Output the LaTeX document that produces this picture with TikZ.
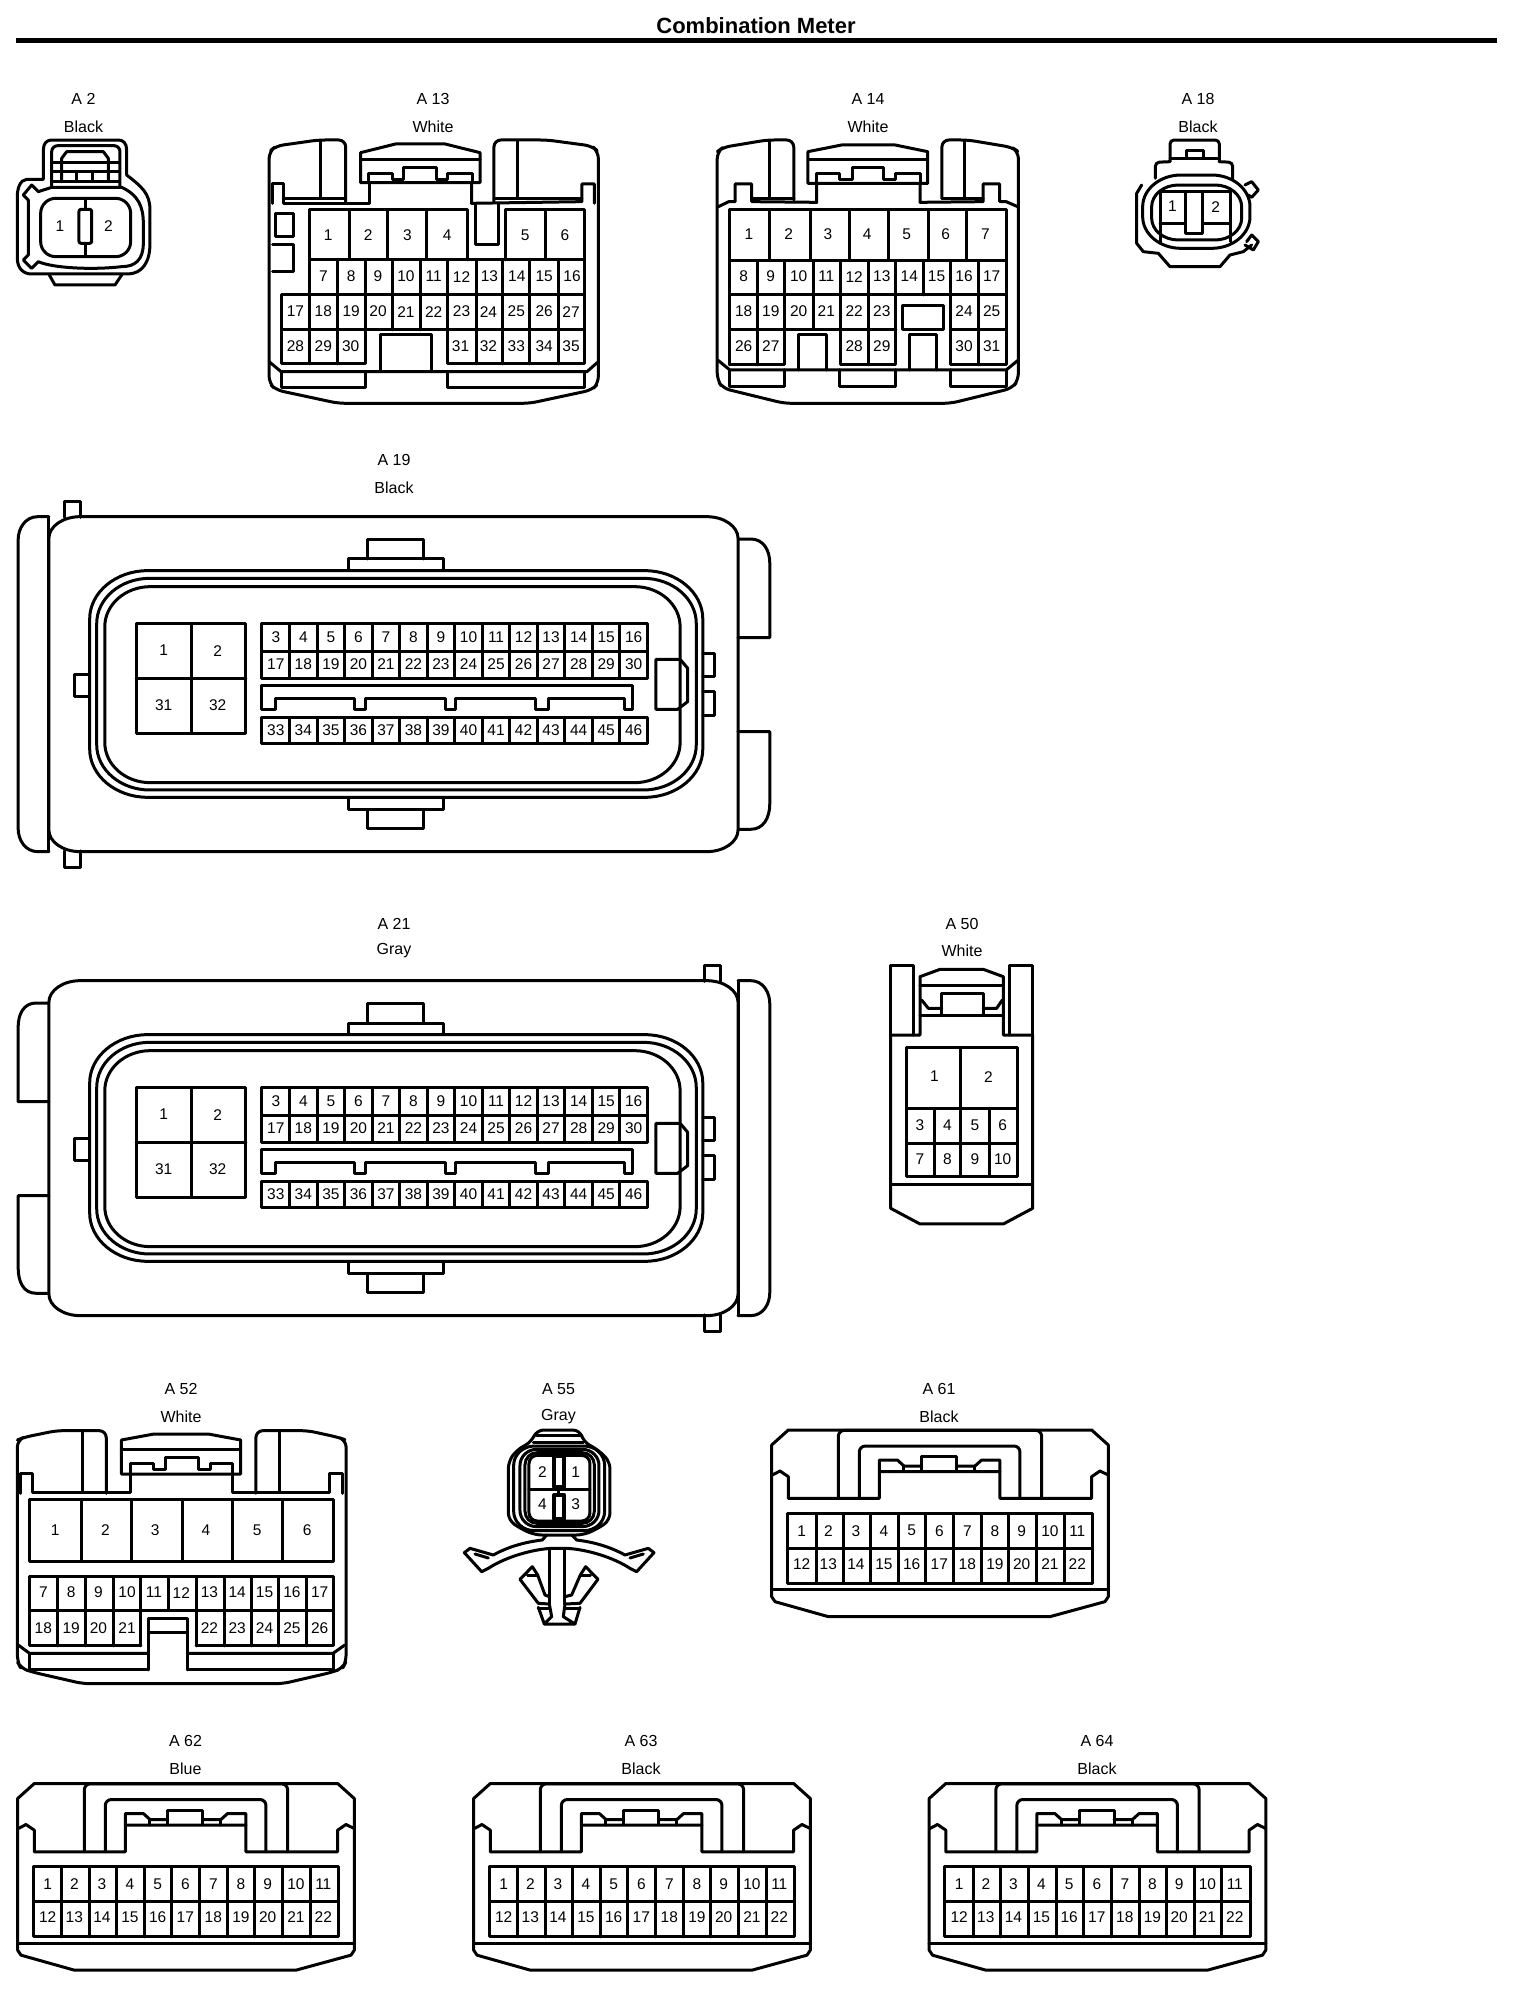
\documentclass[tikz,border=0pt]{standalone}
\usepackage{fontspec}
\setmainfont{Liberation Sans}
\newcounter{pn}
\tikzset{
  pintxt/.style={inner sep=0pt,font=\fontsize{15.5}{15.5}\selectfont},
  captxt/.style={inner sep=0pt,font=\fontsize{16}{16}\selectfont},
  titletxt/.style={inner sep=0pt,font=\bfseries\fontsize{22}{23}\selectfont},
  zoneA/.style={x=0.4974pt,y=-0.3333pt},
  zoneB/.style={shift={(700pt,-70pt)},x=0.3827pt,y=-0.3333pt},
  zoneC/.style={shift={(0pt,-440pt)},x=0.5038pt,y=-0.3333pt},
  zoneD/.style={shift={(840pt,-900pt)},x=0.3333pt,y=-0.3333pt},
  zoneE/.style={shift={(0pt,-1360pt)},x=0.4337pt,y=-0.3333pt},
  zoneF/.style={shift={(740pt,-1360pt)},x=0.3333pt,y=-0.3333pt},
  zoneG/.style={shift={(455pt,-1420pt)},x=0.3333pt,y=-0.3333pt},
  zoneH/.style={shift={(10pt,-130pt)},x=0.3333pt,y=-0.3333pt},
  zoneI/.style={shift={(1120pt,-130pt)},x=0.3333pt,y=-0.3333pt}
}
% row of pin numbers: y, list of x/text
\newcommand\pinrow[2]{\foreach \px/\ptxt in {#2}{\stepcounter{pn}\node[pintxt] (p\arabic{pn}) at (\px,#1) {\ptxt};}}
% vertical dividers: y0, y1, list of x
\newcommand\vls[3]{\foreach \vx in {#3}{\draw (\vx,#1) -- (\vx,#2);}}
% caption pair
\newcommand\captn[4]{\stepcounter{pn}\node[captxt] (c\arabic{pn}) at (#1,#2) {#3};\stepcounter{pn}\node[captxt] (c\arabic{pn}) at (#1,#2+27.5) {#4};}
% rectangle with elliptical corners: x0,y0,x1,y1,rx,ry
\newcommand\ellrect[6]{%
  \pgfmathsetmacro\ea{#1+#5}\pgfmathsetmacro\eb{#3-#5}\pgfmathsetmacro\ec{#2+#6}\pgfmathsetmacro\ed{#4-#6}%
  \pgfmathsetmacro\ee{#1+.45*#5}\pgfmathsetmacro\ef{#3-.45*#5}\pgfmathsetmacro\eg{#2+.45*#6}\pgfmathsetmacro\eh{#4-.45*#6}%
  \draw (\ea,#2) -- (\eb,#2) .. controls (\ef,#2) and (#3,\eg) .. (#3,\ec) -- (#3,\ed) .. controls (#3,\eh) and (\ef,#4) .. (\eb,#4) -- (\ea,#4) .. controls (\ee,#4) and (#1,\eh) .. (#1,\ed) -- (#1,\ec) .. controls (#1,\eg) and (\ee,#2) .. (\ea,#2) -- cycle;}
% shared centre of A19 and A21
\newcommand\ecucore{%
  \ellrect{97}{230}{1465}{1235}{62}{65}
  \draw (692,390) -- (692,357) -- (880,357) -- (880,390);
  \draw (730,357) -- (730,297) -- (840,297) -- (840,357);
  \draw (692,1075) -- (692,1108) -- (880,1108) -- (880,1075);
  \draw (730,1108) -- (730,1165) -- (840,1165) -- (840,1108);
  \ellrect{178}{392}{1395}{1072}{115}{145}
  \ellrect{192}{415}{1382}{1050}{105}{135}
  \ellrect{208}{440}{1350}{1028}{90}{120}
  \draw (175,703) -- (147,703) -- (147,770) -- (175,770);
  \draw (1395,640) -- (1418,640) -- (1418,710) -- (1395,710);
  \draw (1395,755) -- (1418,755) -- (1418,828) -- (1395,828);
  \draw (1302,658) -- (1350,658) -- (1365,685) -- (1365,785) -- (1345,808) -- (1302,808) -- cycle;
  \draw (270,552) rectangle (488,880);
  \draw (380,552) -- (380,880);
  \draw (270,715) -- (488,715);
  \draw (520,552) rectangle (1285,715);
  \draw (520,635) -- (1285,635);
  \draw (520,832) rectangle (1285,910);
  \foreach \ki in {1,...,13}{
    \pgfmathsetmacro\kx{520+54.64*\ki}
    \draw (\kx,552) -- (\kx,715);
    \draw (\kx,832) -- (\kx,910);
  }
  \foreach \ki in {0,...,13}{
    \pgfmathsetmacro\kx{547.5+54.64*\ki}
    \pgfmathtruncatemacro\ka{\ki+3}
    \pgfmathtruncatemacro\kb{\ki+17}
    \pgfmathtruncatemacro\kc{\ki+33}
    \stepcounter{pn}\node[pintxt] (p\arabic{pn}) at (\kx,592) {\ka};
    \stepcounter{pn}\node[pintxt] (p\arabic{pn}) at (\kx,673) {\kb};
    \stepcounter{pn}\node[pintxt] (p\arabic{pn}) at (\kx,870) {\kc};
  }
  \draw (520,808) -- (520,738) -- (1255,738) -- (1255,808) -- (1240,808) -- (1240,775) -- (1088,775) -- (1088,808) -- (1063,808) -- (1063,775) -- (905,775) -- (905,808) -- (885,808) -- (885,775) -- (725,775) -- (725,808) -- (703,808) -- (703,775) -- (547,775) -- (547,808) -- cycle;
  \pinrow{632}{325/1,432/2}
  \pinrow{795}{325/31,432/32}
}
% A61 type connector, drawn in zoneF coordinates
\newcommand\twentytwo{%
  \draw (95,255) -- (145,210) -- (1055,210) -- (1105,255) -- (1105,710) -- (1095,725) -- (930,770) -- (265,770) -- (105,725) -- (95,710) -- cycle;
  \draw (97,345) -- (120,333) -- (145,350) -- (145,415) -- (418,415) -- (418,335) -- (780,335) -- (780,415) -- (1055,415) -- (1055,350) -- (1080,333) -- (1105,345);
  \draw (418,335) -- (418,300) -- (472,300) -- (492,318) -- (545,318);
  \draw (545,330) -- (545,290) -- (650,290) -- (650,330);
  \draw (650,318) -- (705,318) -- (725,300) -- (780,300) -- (780,335);
  \draw (492,318) -- (492,335); \draw (705,318) -- (705,335);
  \draw[rounded corners=6pt] (358,415) -- (358,258) -- (840,258) -- (840,415);
  \draw[rounded corners=6pt] (295,415) -- (295,211) -- (905,211) -- (905,415);
  \draw (142,460) rectangle (1058,670);
  \draw (142,565) -- (1058,565);
  \vls{460}{670}{228,310,392,476,558,642,725,807,890,973}
  \draw (95,690) -- (1105,690);
  \pinrow{512}{185/1,265/2,348/3,432/4,515/5,598/6,682/7,765/8,845/9,930/10,1012/11}
  \pinrow{612}{185/12,265/13,348/14,432/15,515/16,598/17,682/18,765/19,845/20,930/21,1012/22}
}
\begin{document}
\begin{tikzpicture}[x=1pt,y=-1pt,line width=3pt,line join=round,line cap=round]
\path[use as bounding box,fill=white] (0,0) rectangle (1536,1998);
\node[titletxt] (title) at (756,26) {Combination Meter};
\coordinate (ruleL) at (16,40.5);
\coordinate (ruleR) at (1497,40.5);
\draw[line width=4.5pt,line cap=butt] (ruleL) -- (ruleR);
\captn{83.5}{99}{A 2}{Black}
\captn{433}{99}{A 13}{White}
\captn{868}{99}{A 14}{White}
\captn{1198}{99}{A 18}{Black}
\captn{394}{460}{A 19}{Black}
\captn{394}{923.5}{A 21}{Gray}
\captn{962}{923.5}{A 50}{White}
\captn{181}{1389}{A 52}{White}
\captn{558.5}{1389}{A 55}{Gray}
\captn{939}{1389}{A 61}{Black}
\captn{185.5}{1741}{A 62}{Blue}
\captn{641}{1741}{A 63}{Black}
\captn{1097}{1741}{A 64}{Black}

% A2
\begin{scope}[zoneH]
\draw (100,148) -- (50,148) .. controls (30,150) and (22,175) .. (22,200) -- (22,385) .. controls (22,415) and (40,432) .. (65,432) -- (355,432) .. controls (395,430) and (420,400) .. (420,340) -- (420,240) .. controls (420,190) and (395,170) .. (350,135) -- (350,60) .. controls (350,40) and (340,30) .. (325,30) -- (125,30) .. controls (110,30) and (100,40) .. (100,60) -- cycle;
\draw (40,195) -- (65,165) -- (85,185) -- (125,172) -- (335,172) .. controls (385,195) and (400,230) .. (400,280) -- (400,340) .. controls (400,390) and (375,410) .. (335,410) .. controls (250,420) and (130,415) .. (85,395) -- (65,415) -- (40,390) -- (55,375) -- (55,210) -- cycle;
\draw[rounded corners=6pt] (125,172) -- (125,47) -- (330,47) -- (330,172);
\draw (155,155) -- (155,85) -- (170,65) -- (280,65) -- (295,85) -- (295,155);
\draw (130,98) -- (328,98);
\draw (130,125) -- (328,125);
\draw (130,155) -- (328,155);
\vls{125}{155}{200,248}
\ellrect{92}{205}{362}{380}{45}{45}
\draw (226,205) -- (226,380);
\draw[fill=white,rounded corners=2pt] (207,238) rectangle (245,340);
\draw (118,435) -- (135,465) -- (315,465) -- (335,435);
\pinrow{288}{150/1,295/2}
\end{scope}

% A13
\begin{scope}[zoneA]
\draw[rounded corners=7pt] (695,605) -- (695,420) -- (640,420) -- (555,438) -- (541,455) -- (541,1150) -- (555,1170) -- (680,1210) -- (1065,1210) -- (1190,1170) -- (1203,1150) -- (1203,455) -- (1190,438) -- (1100,420) -- (993,420) -- (993,605);
\draw (548,610) -- (548,552) -- (570,552) -- (570,610) -- (742,610) -- (742,548);
\draw (725,548) -- (725,458) -- (795,432) -- (895,432) -- (965,458) -- (965,548) -- cycle;
\draw (725,480) -- (965,480);
\draw (740,548) -- (740,520) -- (790,520) -- (790,540) -- (812,540) -- (812,503) -- (877,503) -- (877,540) -- (900,540) -- (900,520) -- (950,520) -- (950,548);
\draw (948,548) -- (948,610) -- (1170,605) -- (1170,552) -- (1195,552) -- (1195,610);
\draw (645,422) -- (645,595);
\draw (570,595) -- (693,595);
\draw (1040,422) -- (1040,595);
\draw (995,595) -- (1170,595);
\draw (955,612) -- (955,735) -- (1003,735) -- (1003,612);
\draw (553,640) rectangle (590,710);
\draw (548,733) -- (590,733) -- (590,815) -- (548,815);
\draw (622,885) -- (622,630) -- (940,630) -- (940,780);
\vls{630}{778}{703,780,858}
\draw (1016,780) -- (1016,630) -- (1175,630) -- (1175,1092) -- (900,1092) -- (900,990);
\draw (1097,630) -- (1097,778);
\draw (622,780) -- (1175,780);
\vls{780}{885}{678,735,790,845,900,957,1010,1065,1122}
\draw (566,885) -- (1175,885);
\vls{885}{990}{622,678,735,790,845,900,957,1010,1065,1122}
\draw (566,885) -- (566,1092) -- (735,1092) -- (735,990);
\draw (566,990) -- (1175,990);
\vls{990}{1092}{622,678,957,1010,1065,1122}
\draw (765,1115) -- (765,1003) -- (868,1003) -- (868,1115);
\draw (541,1085) -- (565,1115) -- (1180,1115) -- (1203,1085);
\draw (566,1115) -- (566,1163) -- (735,1163) -- (735,1115);
\draw (900,1115) -- (900,1163) -- (1175,1163) -- (1175,1115);
\pinrow{705}{660/1,740/2,819/3,899/4,1056/5,1136/6}
\pinrow{830}{650/7,706/8,760/9,816/10,872/11,928/12,984/13,1039/14,1094/15,1150/16}
\pinrow{935}{594/17,650/18,706/19,760/20,816/21,872/22,928/23,982/24,1038/25,1094/26,1148/27}
\pinrow{1038}{594/28,650/29,705/30,926/31,982/32,1038/33,1094/34,1148/35}
\end{scope}

% A14
\begin{scope}[zoneB]
\draw[rounded corners=7pt] (245,390) -- (245,210) -- (175,210) -- (60,232) -- (45,245) -- (45,930) -- (60,955) -- (220,1000) -- (655,1000) -- (815,955) -- (832,930) -- (832,245) -- (815,232) -- (700,210) -- (632,210) -- (632,385);
\draw (48,410) -- (75,395) -- (92,395) -- (92,342) -- (135,342) -- (135,395) -- (305,397) -- (305,340);
\draw (282,340) -- (282,245) -- (370,225) -- (510,225) -- (595,245) -- (595,340) -- cycle;
\draw (285,268) -- (595,268);
\draw (305,340) -- (305,310) -- (365,310) -- (365,330) -- (398,330) -- (398,293) -- (480,293) -- (480,330) -- (512,330) -- (512,310) -- (575,310) -- (575,340);
\draw (575,340) -- (575,397) -- (740,395) -- (740,342) -- (783,342) -- (783,395) -- (800,395) -- (830,410);
\draw (182,212) -- (182,385);
\draw (135,385) -- (245,385);
\draw (692,212) -- (692,385);
\draw (632,385) -- (740,385);
\draw (78,885) -- (78,420) -- (800,420) -- (800,885) -- (655,885) -- (655,675);
\vls{420}{570}{182,288,390,493,597,697}
\draw (78,572) -- (800,572);
\vls{572}{675}{150,222,297,368,440,512,583,655,727}
\draw (78,675) -- (800,675);
\vls{675}{778}{150,222,297,368,440,512,727}
\draw (78,778) -- (512,778);
\draw (655,778) -- (800,778);
\draw (78,885) -- (222,885) -- (222,778);
\draw (150,778) -- (150,885);
\draw (368,778) -- (368,885) -- (512,885) -- (512,778);
\draw (440,778) -- (440,885);
\draw (727,778) -- (727,885);
\draw (530,708) rectangle (635,778);
\draw (258,900) -- (258,793) -- (330,793) -- (330,900);
\draw (547,900) -- (547,793) -- (618,793) -- (618,900);
\draw (46,870) -- (78,900) -- (800,900) -- (832,870);
\draw (78,900) -- (78,950) -- (222,950) -- (222,900);
\draw (365,900) -- (365,950) -- (512,950) -- (512,900);
\draw (655,900) -- (655,950) -- (800,950) -- (800,900);
\pinrow{493}{128/1,232/2,334/3,437/4,540/5,642/6,746/7}
\pinrow{620}{114/8,185/9,258/10,330/11,403/12,475/13,547/14,618/15,690/16,762/17}
\pinrow{723}{114/18,185/19,258/20,330/21,403/22,475/23,690/24,762/25}
\pinrow{828}{114/26,185/27,403/28,475/29,690/30,762/31}
\end{scope}

% A18
\begin{scope}[zoneI]
\draw[rounded corners=4pt] (150,95) -- (150,30) -- (298,30) -- (298,95);
\draw (200,82) -- (200,60) -- (250,60) -- (250,82);
\draw (150,85) -- (298,85);
\draw[rounded corners=4pt] (150,95) -- (106,97) -- (106,145);
\draw[rounded corners=4pt] (298,95) -- (338,97) -- (338,145);
\draw (375,165) -- (395,155) -- (415,180) -- (395,202) -- (385,195);
\draw (380,335) -- (395,315) -- (415,335) -- (400,360) -- (375,345);
\draw (65,165) -- (50,190) -- (50,340) -- (70,365) -- (115,370) -- (150,410) -- (300,410) -- (330,375) -- (370,365) -- (395,345);
\ellrect{68}{135}{390}{355}{115}{95}
\ellrect{95}{165}{365}{330}{80}{65}
\draw (120,185) -- (330,185);
\draw (120,185) -- (120,335);
\draw (330,185) -- (330,335);
\draw (120,282) -- (197,282);
\draw (250,282) -- (330,282);
\draw (197,185) -- (197,310) -- (248,310) -- (248,185);
\pinrow{230}{157/1,287/2}
\end{scope}

% A19
\begin{scope}[zoneC]
\draw[fill=white] (128,232) -- (128,183) -- (160,183) -- (160,232);
\draw[fill=white] (128,1233) -- (128,1283) -- (160,1283) -- (160,1233);
\draw (97,230) -- (75,230) .. controls (50,230) and (36,265) .. (36,300) -- (36,1165) .. controls (36,1200) and (50,1235) .. (75,1235) -- (97,1235);
\draw (1465,297) -- (1490,297) .. controls (1515,297) and (1528,330) .. (1528,370) -- (1528,593) -- (1465,593);
\draw (1465,875) -- (1528,875) -- (1528,1090) .. controls (1528,1135) and (1515,1168) .. (1490,1168) -- (1465,1168);
\ecucore
\draw (97,230) -- (97,1235);
\end{scope}

% A21
\begin{scope}[zoneC,yshift=-464pt]
\draw[fill=white] (1398,232) -- (1398,183) -- (1430,183) -- (1430,232);
\draw[fill=white] (1398,1233) -- (1398,1283) -- (1430,1283) -- (1430,1233);
\draw (1465,230) -- (1490,230) .. controls (1515,230) and (1528,265) .. (1528,300) -- (1528,1165) .. controls (1528,1200) and (1515,1235) .. (1490,1235) -- (1465,1235);
\draw (97,297) -- (72,297) .. controls (47,297) and (36,330) .. (36,370) -- (36,593) -- (97,593);
\draw (97,875) -- (36,875) -- (36,1090) .. controls (36,1135) and (47,1168) .. (72,1168) -- (97,1168);
\ecucore
\draw (1465,230) -- (1465,1235);
\end{scope}

% A50
\begin{scope}[zoneD]
\draw (152,405) -- (152,925) -- (240,972) -- (490,972) -- (578,925) -- (578,405);
\draw (152,405) -- (152,197) -- (220,197) -- (220,405);
\draw (510,405) -- (510,197) -- (578,197) -- (578,405);
\draw (152,405) -- (240,405) -- (240,230) -- (300,208) -- (430,208) -- (490,230) -- (490,405) -- (578,405);
\draw (240,255) -- (490,255);
\draw (245,300) -- (265,325) -- (305,325);
\draw (305,345) -- (305,280) -- (430,280) -- (430,345);
\draw (430,325) -- (470,325) -- (487,300);
\draw (240,347) -- (490,347);
\draw (200,442) rectangle (533,830);
\draw (363,442) -- (363,830);
\draw (200,625) -- (533,625);
\draw (200,730) -- (533,730);
\vls{625}{830}{283,450}
\draw (152,855) -- (578,855);
\pinrow{530}{283/1,445/2}
\pinrow{675}{240/3,322/4,405/5,488/6}
\pinrow{778}{240/7,322/8,405/9,488/10}
\end{scope}

% A52
\begin{scope}[zoneE]
\draw[rounded corners=7pt] (245,400) -- (245,212) -- (130,212) -- (55,232) -- (40,240) -- (40,905) -- (48,925) -- (77,937) -- (191,971) -- (652,971) -- (765,937) -- (790,925) -- (798,905) -- (798,240) -- (780,232) -- (710,212) -- (590,212) -- (590,400);
\draw (48,400) -- (48,340) -- (75,340) -- (75,397) -- (300,397) -- (300,342);
\draw (280,342) -- (280,240) -- (355,222) -- (480,222) -- (555,240) -- (555,342) -- cycle;
\draw (280,268) -- (555,268);
\draw (300,342) -- (300,310) -- (355,310) -- (355,328) -- (382,328) -- (382,293) -- (457,293) -- (457,328) -- (485,328) -- (485,310) -- (535,310) -- (535,342);
\draw (535,342) -- (535,397) -- (760,397) -- (760,340) -- (790,340) -- (790,400);
\draw (190,212) -- (190,397);
\draw (645,212) -- (645,397);
\draw (68,418) rectangle (768,605);
\vls{418}{605}{187,303,420,535,652}
\draw (325,858) -- (68,858) -- (68,650) -- (768,650) -- (768,858) -- (452,858);
\draw (68,752) -- (768,752);
\vls{650}{752}{133,197,262,325,388,452,517,580,642,706}
\vls{752}{858}{133,197,262,325,452,517,580,642,706}
\draw (342,930) -- (342,775) -- (432,775) -- (432,930);
\draw (342,818) -- (432,818);
\draw (42,855) -- (68,880) -- (342,880);
\draw (432,880) -- (768,880) -- (795,855);
\draw (68,880) -- (68,930) -- (342,930);
\draw (432,930) -- (768,930) -- (768,880);
\pinrow{510}{127/1,243/2,358/3,475/4,593/5,708/6}
\pinrow{698}{100/7,164/8,227/9,293/10,355/11,418/12,483/13,547/14,610/15,673/16,737/17}
\pinrow{805}{100/18,164/19,227/20,293/21,483/22,547/23,610/24,673/25,737/26}
\end{scope}

% A55
\begin{scope}[zoneG]
\draw[rounded corners=7pt] (245,30) -- (230,65) -- (185,90) -- (160,125) -- (160,300) -- (195,325) -- (240,345) -- (385,345) -- (430,325) -- (465,300) -- (465,125) -- (430,90) -- (385,65) -- (375,30) -- cycle;
\draw (245,45) -- (375,45);
\draw (235,68) -- (385,68);
\ellrect{176}{78}{449}{332}{62}{58}
\ellrect{195}{88}{432}{320}{50}{48}
\ellrect{210}{98}{418}{310}{36}{36}
\ellrect{222}{106}{405}{303}{25}{25}
\draw (222,207) -- (405,207);
\draw[line width=4pt,fill=white] (298,108) rectangle (328,200);
\draw[line width=4pt,fill=white] (298,225) rectangle (328,297);
\draw (312,200) -- (312,225);
\pinrow{155}{262/2,362/1}
\pinrow{252}{262/4,362/3}
\draw (275,345) -- (262,360) .. controls (210,366) and (160,380) .. (115,405) -- (45,385) -- (28,398) -- (80,455) -- (100,445) .. controls (150,412) and (230,388) .. (290,385) -- (335,385) .. controls (395,388) and (475,412) .. (525,445) -- (545,455) -- (597,398) -- (580,385) -- (510,405) .. controls (465,380) and (415,366) .. (365,360) -- (350,345);
\draw (60,402) -- (100,414);
\draw (565,402) -- (525,414);
\draw (283,385) -- (283,552);
\draw (330,385) -- (330,552);
\draw (283,530) -- (270,525) -- (248,465) -- (232,440) -- (195,478) -- (250,550) -- (283,552);
\draw (330,530) -- (350,525) -- (376,465) -- (392,440) -- (429,478) -- (375,550) -- (330,552);
\draw (218,466) -- (245,466);
\draw (379,466) -- (406,466);
\draw (283,552) -- (290,590) -- (268,612) -- (360,612) -- (325,590) -- (330,552);
\draw (250,562) -- (268,612);
\draw (375,562) -- (360,612);
\draw (250,564) -- (284,564);
\draw (330,564) -- (375,564);
\end{scope}

% A61, A62, A63, A64
\begin{scope}[zoneF]
\twentytwo
\end{scope}
\begin{scope}[zoneF,xshift=-754pt,yshift=-353.5pt]
\twentytwo
\end{scope}
\begin{scope}[zoneF,xshift=-298pt,yshift=-353.5pt]
\twentytwo
\end{scope}
\begin{scope}[zoneF,xshift=157.5pt,yshift=-353.5pt]
\twentytwo
\end{scope}
\end{tikzpicture}
\end{document}
